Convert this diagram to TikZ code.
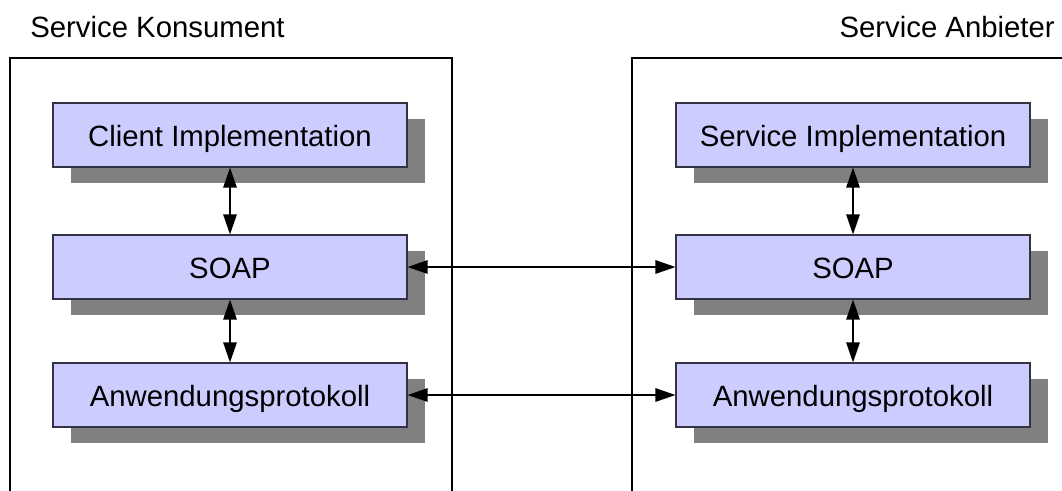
\documentclass[tikz,border=0pt]{standalone}
\usepackage{fontspec}
\setmainfont{Liberation Sans}
\usetikzlibrary{arrows.meta}
\definecolor{boxfill}{HTML}{CCCCFF}
\definecolor{shadowgray}{HTML}{808080}
\definecolor{boxline}{HTML}{333344}
\begin{document}
\begin{tikzpicture}[x=0.75pt,y=-0.75pt,
  container/.style={draw=black,line width=1.5pt},
  layerbox/.style={draw=boxline,fill=boxfill,line width=0.8pt,minimum width=265.5pt,minimum height=48pt,inner sep=0pt,text height=21pt,text depth=4pt,font=\fontsize{22}{25}\selectfont},
  shadowbox/.style={fill=shadowgray,draw=none,minimum width=265.5pt,minimum height=48pt,inner sep=0pt},
  title/.style={font=\fontsize{22}{25}\selectfont,inner sep=0pt},
  link/.style={line width=1.3pt,{Triangle[length=15pt,width=10pt]}-{Triangle[length=15pt,width=10pt]}}]
\useasboundingbox (0,0) rectangle (1062,490);
% containers (bottom open, cut by picture edge)
\draw[container] (10,492) -- (10,58) -- (452,58) -- (452,492);
\draw[container] (632,492) -- (632,58) -- (1064,58);
% titles
\node[title,anchor=base west] (tk) at (30,37) {Service Konsument};
\node[title,anchor=base east] (ta) at (1055,37) {Service Anbieter};
% shadows
\foreach \cx/\cy in {248/151, 248/283, 248/411, 871/151, 871/283, 871/411}
  \node[shadowbox] at (\cx,\cy) {};
% layer boxes
\node[layerbox] (ci) at (230,135) {Client Implementation};
\node[layerbox] (cs) at (230,267) {SOAP};
\node[layerbox] (ca) at (230,395) {Anwendungsprotokoll};
\node[layerbox] (si) at (853,135) {Service Implementation};
\node[layerbox] (ss) at (853,267) {SOAP};
\node[layerbox] (sa) at (853,395) {Anwendungsprotokoll};
% connectors
\draw[link] (ci.south) -- (cs.north);
\draw[link] (cs.south) -- (ca.north);
\draw[link] (si.south) -- (ss.north);
\draw[link] (ss.south) -- (sa.north);
\draw[link] (cs.east) -- (ss.west);
\draw[link] (ca.east) -- (sa.west);
\end{tikzpicture}
\end{document}
